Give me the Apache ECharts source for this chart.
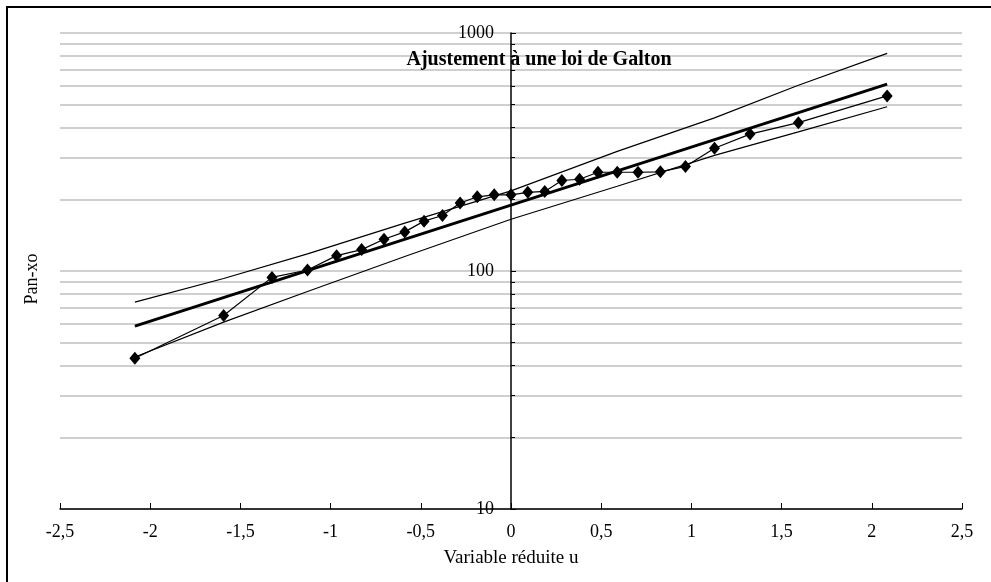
<!DOCTYPE html>
<html>
<head>
<meta charset="utf-8">
<script src="https://cdn.jsdelivr.net/npm/echarts@6/dist/echarts.min.js"></script>
<style>
  html, body { margin: 0; padding: 0; background: #fff; }
  #chart { width: 991px; height: 582px; }
</style>
</head>
<body>
<div id="chart"></div>
<script>
const uObs = [-2.085, -1.593, -1.325, -1.128, -0.967, -0.828, -0.704, -0.589, -0.482, -0.380, -0.282, -0.187, -0.093, 0,
  0.093, 0.187, 0.282, 0.380, 0.482, 0.589, 0.704, 0.828, 0.967, 1.128, 1.325, 1.593, 2.085];
const panObs = [43, 65, 94, 101, 116, 123, 136, 146, 162, 171, 193, 205, 209, 209,
  214, 216, 240, 243, 260, 260, 260, 261, 275, 328, 376, 420, 544];

// droite d'ajustement
const uFit = [-2.085, 2.085];
const panFit = [58.7, 610];

// bornes de l'intervalle de confiance
const uBound = [-2.085, -1.593, -1.128, -0.589, 0, 0.589, 1.128, 1.593, 2.085];
const panUpper = [74, 93, 118, 159, 217, 318, 440, 603, 821];
const panLower = [43.5, 61, 82, 115, 165, 227, 306, 384, 490];

const xTicks = { min: -2.5, max: 2.5, step: 0.5 };
const yTicks = { min: 10, max: 1000 };

const font = 'Liberation Serif';
const pair = (xs, ys) => xs.map((x, i) => [x, ys[i]]);

const gridLeft = 60;
const gridRight = 29;
const gridW = 991 - gridLeft - gridRight;
// l'axe des ordonnées coupe les abscisses en u = 0
const yAxisShift = gridW * (0 - xTicks.min) / (xTicks.max - xTicks.min);

var chart = echarts.init(document.getElementById('chart'));
var option = {
  animation: false,
  backgroundColor: '#fff',
  grid: { left: gridLeft, right: gridRight, top: 33, bottom: 73 },
  graphic: [
    {
      type: 'rect',
      shape: { x: 7, y: 7, width: 1100, height: 700 },
      style: { fill: 'none', stroke: '#000', lineWidth: 2 },
      silent: true,
    },
    {
      type: 'text',
      x: 539,
      y: 60,
      style: {
        text: 'Ajustement à une loi de Galton',
        font: 'bold 20px "' + font + '"',
        fill: '#000',
        align: 'center',
        verticalAlign: 'middle',
      },
      z: 10,
    },
    {
      type: 'text',
      x: 32,
      y: 279,
      rotation: Math.PI / 2,
      style: {
        text: 'Pan-xo',
        font: '18px "' + font + '"',
        fill: '#000',
        align: 'center',
        verticalAlign: 'middle',
      },
    },
  ],
  xAxis: {
    type: 'value',
    min: xTicks.min,
    max: xTicks.max,
    interval: xTicks.step,
    name: 'Variable réduite u',
    nameLocation: 'middle',
    nameGap: 40,
    nameTextStyle: { fontFamily: font, fontSize: 19, color: '#000' },
    axisLine: { onZero: false, lineStyle: { color: '#000', width: 1.5 } },
    axisTick: { show: true, inside: true, length: 6, lineStyle: { color: '#000' } },
    axisLabel: {
      fontFamily: font,
      fontSize: 18,
      color: '#000',
      margin: 14,
      formatter: (v) => String(v).replace('.', ','),
    },
    splitLine: { show: false },
  },
  yAxis: {
    type: 'log',
    logBase: 10,
    min: yTicks.min,
    max: yTicks.max,
    offset: -yAxisShift,
    axisLine: { onZero: false, lineStyle: { color: '#000', width: 1.5 } },
    axisTick: { show: true, inside: true, length: 5, lineStyle: { color: '#000' } },
    minorTick: { show: true, splitNumber: 9, length: 4, lineStyle: { color: '#000' } },
    axisLabel: {
      fontFamily: font,
      fontSize: 18,
      color: '#000',
      margin: 17,
      formatter: (v) => String(v),
    },
    splitLine: { show: true, lineStyle: { color: '#c0c0c0', width: 1.5 } },
    minorSplitLine: { show: true, lineStyle: { color: '#c0c0c0', width: 1.5 } },
  },
  series: [
    {
      name: 'borne sup',
      type: 'line',
      data: pair(uBound, panUpper),
      symbol: 'none',
      lineStyle: { color: '#000', width: 1.2 },
    },
    {
      name: 'borne inf',
      type: 'line',
      data: pair(uBound, panLower),
      symbol: 'none',
      lineStyle: { color: '#000', width: 1.2 },
    },
    {
      name: 'ajustement',
      type: 'line',
      data: pair(uFit, panFit),
      symbol: 'none',
      lineStyle: { color: '#000', width: 3 },
    },
    {
      name: 'Pan-xo',
      type: 'line',
      data: pair(uObs, panObs),
      symbol: 'diamond',
      symbolSize: [11, 13],
      itemStyle: { color: '#000' },
      lineStyle: { color: '#000', width: 1.2 },
      z: 5,
    },
  ],
};

chart.setOption(option);
</script>
</body>
</html>
